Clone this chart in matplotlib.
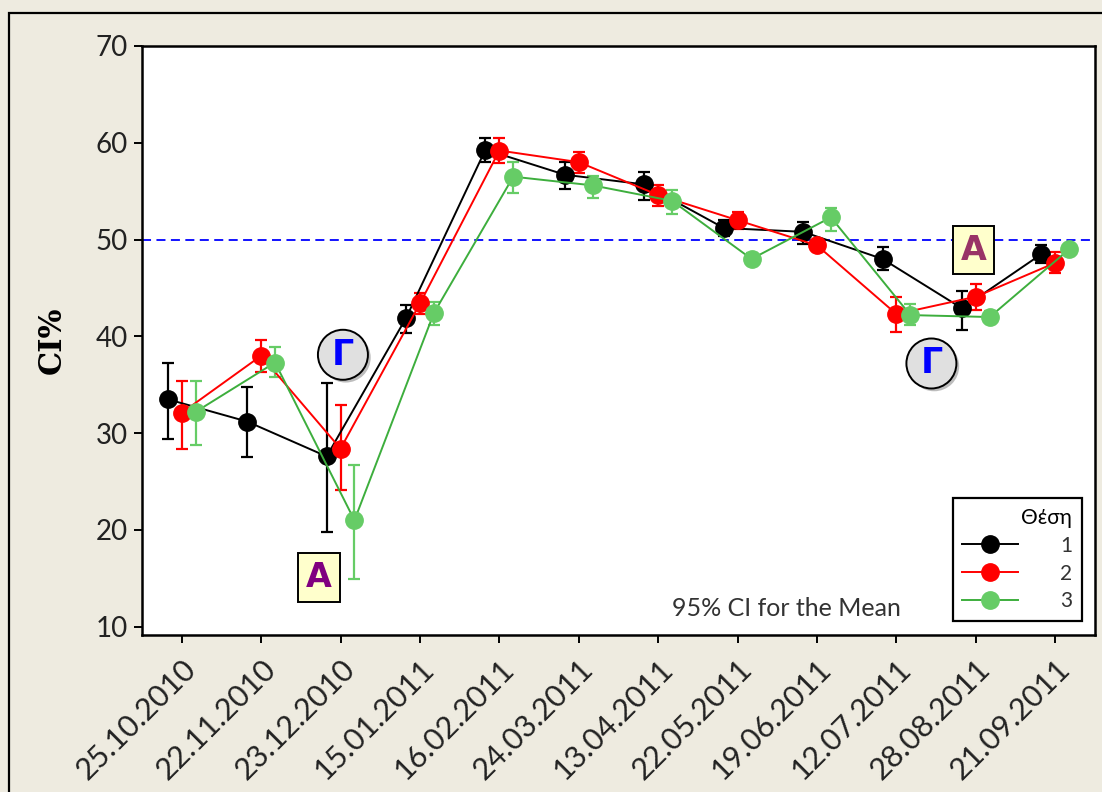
import matplotlib
matplotlib.use("Agg")
import matplotlib.pyplot as plt
import matplotlib.patches as mpatches
import matplotlib.patheffects as pe
import numpy as np

plt.rcParams['font.family'] = ['Lato', 'DejaVu Sans']

# === Data ===
dates = ['25.10.2010', '22.11.2010', '23.12.2010', '15.01.2011', '16.02.2011', '24.03.2011',
         '13.04.2011', '22.05.2011', '19.06.2011', '12.07.2011', '28.08.2011', '21.09.2011']

mean1 = [33.5, 31.2, 27.6, 41.9, 59.3, 56.7, 55.7, 51.2, 50.8, 48.0, 42.9, 48.5]
lo1 = [29.4, 27.5, 19.8, 40.4, 58.0, 55.2, 54.1, 50.4, 49.5, 46.9, 40.7, 47.6]
hi1 = [37.3, 34.8, 35.2, 43.2, 60.5, 58.0, 57.0, 52.0, 51.8, 49.2, 44.7, 49.4]

mean2 = [32.1, 38.0, 28.4, 43.4, 59.2, 58.0, 54.6, 52.0, 49.4, 42.3, 44.1, 47.6]
lo2 = [28.4, 36.3, 24.1, 42.3, 57.95, 56.9, 53.5, 51.1, 48.8, 40.5, 42.7, 46.5]
hi2 = [35.4, 39.6, 32.9, 44.5, 60.5, 59.0, 55.6, 52.9, 50.0, 44.1, 45.4, 48.7]

mean3 = [32.2, 37.3, 21.0, 42.4, 56.5, 55.6, 54.0, 48.0, 52.3, 42.2, 42.0, 49.0]
lo3 = [28.8, 35.8, 14.95, 41.2, 54.8, 54.3, 52.6, 47.4, 50.9, 41.2, 41.5, 48.5]
hi3 = [35.4, 38.9, 26.7, 43.6, 58.0, 56.6, 55.1, 48.6, 53.3, 43.3, 42.6, 49.5]

series = [
    ('1', mean1, lo1, hi1, 'black', 'black', -0.175),
    ('2', mean2, lo2, hi2, '#FF0000', '#FF0000', 0.0),
    ('3', mean3, lo3, hi3, '#3DAE3D', '#66CC66', 0.175),
]

# group labels
gamma_marks = [(2.03, 38.1), (9.44, 37.2)]
alpha_marks = [(1.73, 15.1, '#800080', 0.25), (9.97, 48.9, '#993366', 0.22)]

bg = '#EEEBE0'
fig = plt.figure(figsize=(11.02, 7.92), dpi=100, facecolor=bg)
fig.patches.append(mpatches.Rectangle((9 / 1102, -0.05), 1.1, 1 - 13 / 792 + 0.05,
                                      transform=fig.transFigure, fill=False,
                                      edgecolor='black', linewidth=1.6))
ax = fig.add_axes([142 / 1102, 157 / 792, 953 / 1102, 589 / 792])

x = np.arange(len(dates))
handles = []
for label, m, lo, hi, lcol, mcol, off in series:
    m = np.array(m)
    err = [m - np.array(lo), np.array(hi) - m]
    ax.errorbar(x + off, m, yerr=err, fmt='none', ecolor=mcol, elinewidth=1.6,
                capsize=4, capthick=1.6, zorder=3)
    ln, = ax.plot(x + off, m, color=lcol, linewidth=1.4, marker='o', markersize=12.5,
                  markerfacecolor=mcol, markeredgecolor=mcol, label=label, zorder=4)
    handles.append(ln)

ax.axhline(50, color='#0000FF', linestyle=(0, (5, 3)), linewidth=1.3, zorder=2)

for gx, gy in gamma_marks:
    ax.plot(gx, gy, marker='o', markersize=36, markerfacecolor='#E0E0E0',
            markeredgecolor='black', markeredgewidth=1.4, zorder=6,
            path_effects=[pe.SimplePatchShadow(offset=(2, -2), alpha=0.35), pe.Normal()])
    ax.text(gx, gy, 'Γ', color='#0000FF', fontsize=25, fontweight='bold',
            family='DejaVu Sans', ha='center', va='center', zorder=7)

for axx, ayy, col, padv in alpha_marks:
    ax.text(axx, ayy, 'Α', color=col, fontsize=24, fontweight='bold', family='DejaVu Sans',
            ha='center', va='center', zorder=7,
            bbox=dict(boxstyle='square,pad=%.2f' % padv, facecolor='#FFFFCC',
                      edgecolor='black', linewidth=1.4))

ax.text(7.62, 11.9, '95% CI for the Mean', fontsize=18, color='#333333',
        ha='center', va='center')

ax.set_xlim(-0.5, 11.5)
ax.set_ylim(9.15, 70)
ax.set_yticks([10, 20, 30, 40, 50, 60, 70])
ax.set_xticks(x)
ax.set_xticklabels(dates, rotation=45, ha='right', rotation_mode='anchor', fontsize=22)
ax.tick_params(axis='y', labelsize=20)
ax.tick_params(axis='both', length=6, width=1.4, direction='out', pad=4,
               colors='black', labelcolor='#222222')
ax.tick_params(axis='x', pad=8)
for sp in ax.spines.values():
    sp.set_linewidth(1.8)

ax.set_ylabel('CI%', fontsize=22, fontweight='bold', family='DejaVu Serif', labelpad=20)

leg = ax.legend(handles=handles, title='Θέση', loc='lower right',
                bbox_to_anchor=(0.986, 0.024), borderaxespad=0, fontsize=15,
                title_fontsize=15, handlelength=2.7, handletextpad=2.0,
                borderpad=0.45, labelspacing=0.38, alignment='right', fancybox=False,
                framealpha=1, edgecolor='black', markerscale=1.0)
leg.get_frame().set_linewidth(1.6)
for t in leg.get_texts():
    t.set_color('#333333')

plt.savefig('out.png', dpi=100, facecolor=bg)
